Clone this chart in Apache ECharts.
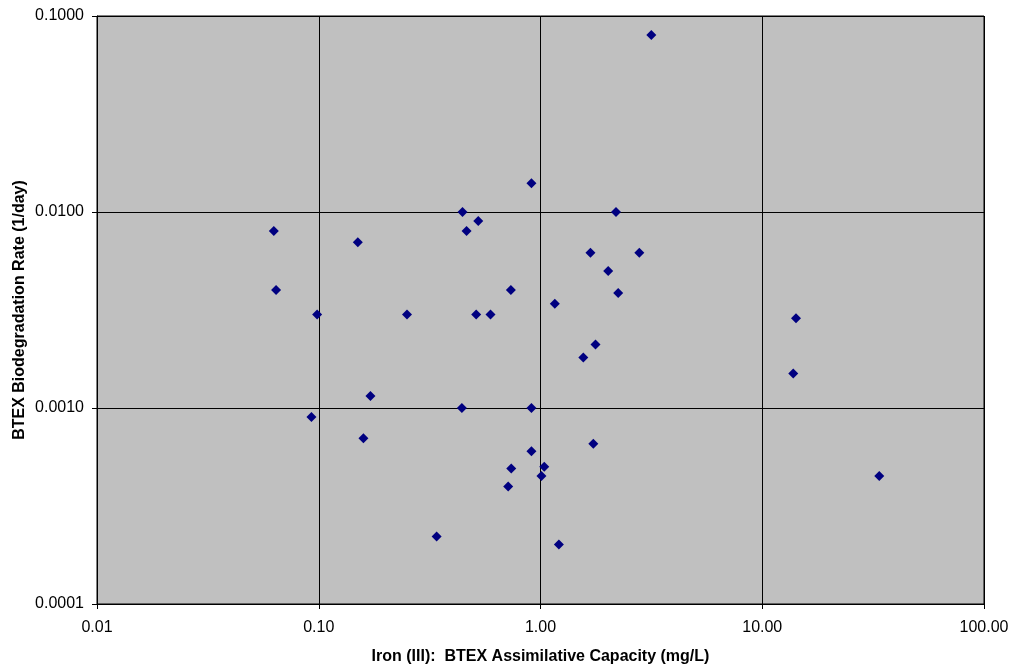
<!DOCTYPE html>
<html>
<head>
<meta charset="utf-8">
<script src="https://cdn.jsdelivr.net/npm/echarts@6/dist/echarts.min.js"></script>
<style>html,body{margin:0;padding:0;background:#fff;}#c{width:1016px;height:671px;}</style>
</head>
<body>
<div id="c"></div>
<script>
// Iron (III) assimilative capacity (mg/L)
const ironCapacity = [3.16, 0.91, 0.445, 0.524, 0.464, 2.19, 0.0627, 0.150, 1.68, 2.79,
  2.02, 0.0642, 0.735, 2.24, 1.16, 0.0983, 0.250, 0.513, 0.595, 14.2,
  1.77, 1.56, 13.8, 0.171, 0.442, 0.91, 0.0927, 0.159, 1.73, 0.91,
  1.04, 0.738, 1.01, 33.7, 0.715, 0.340, 1.21];
// BTEX biodegradation rate (1/day)
const biodegRate = [0.080, 0.0140, 0.0100, 0.0090, 0.0080, 0.0100, 0.0080, 0.0070, 0.0062, 0.0062,
  0.0050, 0.0040, 0.0040, 0.00386, 0.0034, 0.0030, 0.0030, 0.0030, 0.0030, 0.00287,
  0.00211, 0.00181, 0.00150, 0.00115, 0.0010, 0.0010, 0.0009, 0.0007, 0.000658, 0.000601,
  0.000502, 0.000491, 0.00045, 0.00045, 0.000398, 0.000221, 0.000201];
const xTickDecimals = 2;
const yTickDecimals = 4;
const xTitle = 'Iron (III):  BTEX Assimilative Capacity (mg/L)';
const yTitle = 'BTEX Biodegradation Rate (1/day)';

const points = ironCapacity.map((x, i) => [x, biodegRate[i]]);
const chart = echarts.init(document.getElementById('c'), null, {renderer: 'canvas'});
const font = 'Liberation Sans, Arial, sans-serif';
chart.setOption({
  animation: false,
  backgroundColor: '#ffffff',
  grid: {left: 97, top: 16, width: 887, height: 588, show: true, backgroundColor: '#c0c0c0', borderColor: '#000', borderWidth: 1},
  xAxis: {
    type: 'log', logBase: 10, min: 0.01, max: 100,
    name: xTitle, nameLocation: 'middle', nameGap: 45,
    nameTextStyle: {fontFamily: font, fontSize: 16, fontWeight: 'bold', color: '#000'},
    axisLine: {show: true, lineStyle: {color: '#000', width: 1}},
    axisTick: {show: true, inside: false, length: 5, lineStyle: {color: '#000'}},
    axisLabel: {margin: 16, fontFamily: font, fontSize: 16, color: '#000', formatter: v => Number(v).toFixed(xTickDecimals)},
    splitLine: {show: true, lineStyle: {color: '#000', width: 1}},
    minorTick: {show: false}
  },
  yAxis: {
    type: 'log', logBase: 10, min: 0.0001, max: 0.1,
    name: yTitle, nameLocation: 'middle', nameGap: 69, nameRotate: 90, nameMoveOverlap: false,
    nameTextStyle: {fontFamily: font, fontSize: 16, fontWeight: 'bold', color: '#000'},
    axisLine: {show: true, lineStyle: {color: '#000', width: 1}},
    axisTick: {show: true, inside: false, length: 5, lineStyle: {color: '#000'}},
    axisLabel: {margin: 13, fontFamily: font, fontSize: 16, color: '#000', formatter: v => Number(v).toFixed(yTickDecimals)},
    splitLine: {show: true, lineStyle: {color: '#000', width: 1}}
  },
  series: [{
    type: 'scatter',
    data: points,
    symbol: 'diamond',
    symbolSize: 10,
    itemStyle: {color: '#000080', opacity: 1}
  }]
});
</script>
</body>
</html>
